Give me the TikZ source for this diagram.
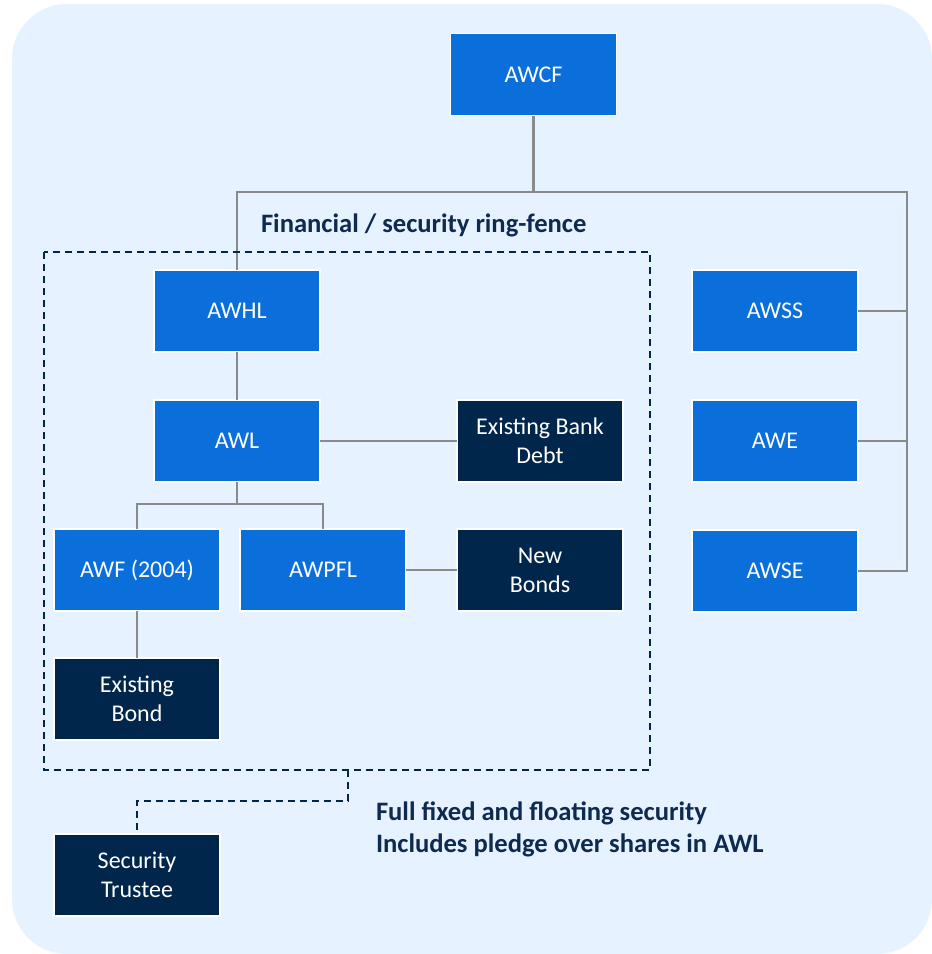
\documentclass[tikz,border=0pt]{standalone}
\usepackage{fontspec}
\setmainfont{Carlito}
\begin{document}
\begin{tikzpicture}[x=1pt,y=-1pt,
  every node/.style={inner sep=0pt,outer sep=0pt},
  bluebox/.style={rectangle,fill=boxblue,draw=white,line width=1.2pt,minimum width=166pt,minimum height=82pt,text=white,font=\fontsize{24}{29}\selectfont,align=center},
  navybox/.style={bluebox,fill=boxnavy},
  link/.style={draw=linegray,line width=2.4pt},
  fence/.style={draw=boxnavy,line width=1.6pt,dash pattern=on 7pt off 5pt},
  note/.style={text=textnavy,font=\bfseries\fontsize{26.6}{32}\selectfont,align=left,anchor=west}
]
\definecolor{boxblue}{HTML}{0A6FDB}
\definecolor{boxnavy}{HTML}{00264C}
\definecolor{linegray}{HTML}{8A8A8A}
\definecolor{textnavy}{HTML}{0E2A50}
\definecolor{bgblue}{HTML}{E6F2FF}
\useasboundingbox (0,0) rectangle (932,954);
\fill[bgblue,rounded corners=55pt] (12,4) rectangle (932,954);

\node[bluebox] (awcf) at (533.5,74.5) {AWCF};
\node[bluebox] (awhl) at (237,311) {AWHL};
\node[bluebox] (awl) at (237,441) {AWL};
\node[navybox] (ebd) at (540,441) {Existing Bank\\Debt};
\node[bluebox] (awf) at (137,570) {AWF (2004)};
\node[bluebox] (awpfl) at (323,570) {AWPFL};
\node[navybox] (nb) at (540,570) {New\\Bonds};
\node[navybox] (eb) at (137,699) {Existing\\Bond};
\node[navybox] (st) at (137,875) {Security\\Trustee};
\node[bluebox] (awss) at (775,311) {AWSS};
\node[bluebox] (awe) at (775,441) {AWE};
\node[bluebox] (awse) at (775,571) {AWSE};

\coordinate (top) at (533.5,192);
\coordinate (rbus) at (907,192);
\coordinate (mid) at (237,504);
\coordinate (fenceout) at (348,770);

\draw[link] (awcf.south) -- (top);
\draw[link] (awhl.north) |- (top) -- (rbus) |- (awse.east);
\draw[link] (awss.east) -- (awss.east -| rbus);
\draw[link] (awe.east) -- (awe.east -| rbus);
\draw[link] (awhl.south) -- (awl.north);
\draw[link] (awl.east) -- (ebd.west);
\draw[link] (awl.south) -- (mid);
\draw[link] (awf.north) |- (mid) -| (awpfl.north);
\draw[link] (awpfl.east) -- (nb.west);
\draw[link] (awf.south) -- (eb.north);

\draw[fence] (44,252) rectangle (650,770);
\draw[fence] (fenceout) -- (348,801) -| (st.north);

\node[note] (fencelabel) at (261,225) {Financial / security ring-fence};
\node[note] (seclabel) at (376,829) {Full fixed and floating security\\Includes pledge over shares in AWL};
\end{tikzpicture}
\end{document}
